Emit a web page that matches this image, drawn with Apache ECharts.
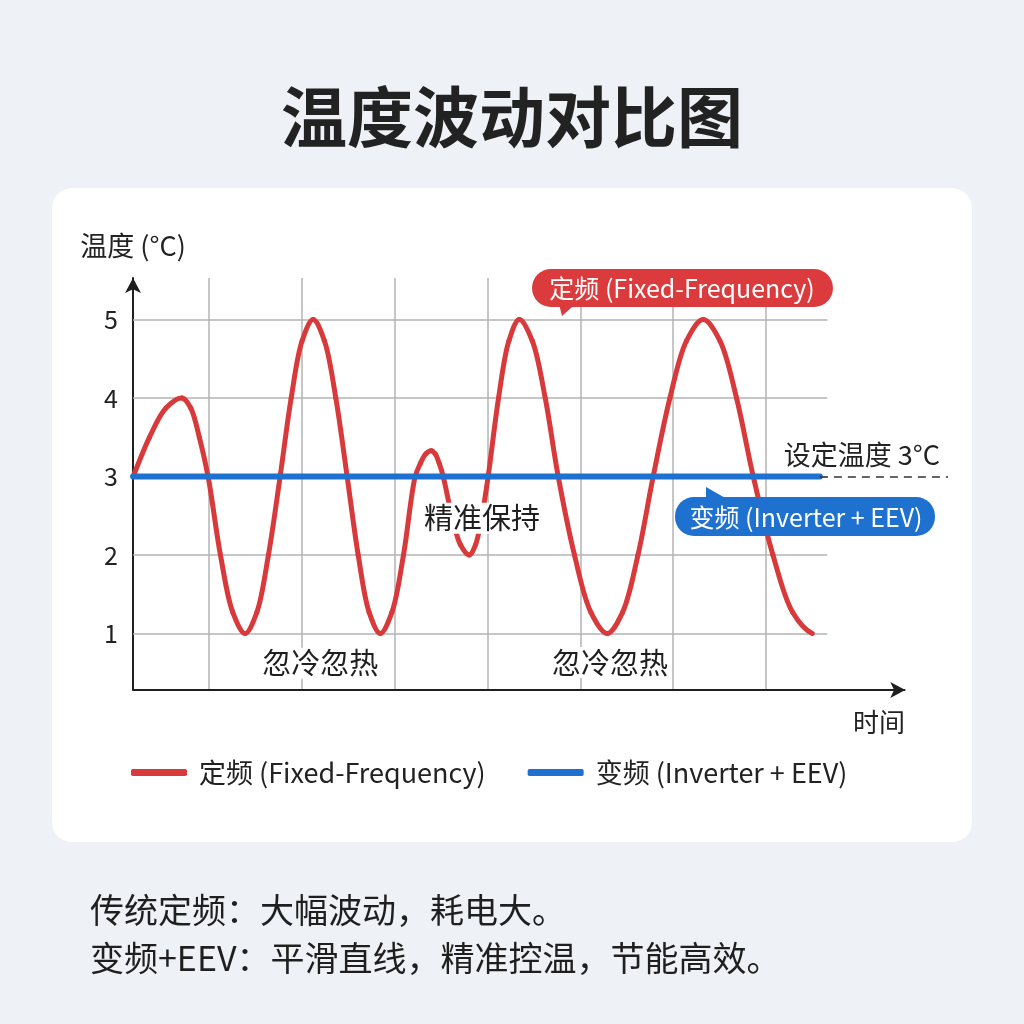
<!DOCTYPE html>
<html>
<head>
<meta charset="utf-8">
<title>温度波动对比图</title>
<script src="https://cdn.jsdelivr.net/npm/echarts@6/dist/echarts.min.js"></script>
<style>
	html, body { margin: 0; padding: 0; background: #eef1f5; }
	#main { width: 1024px; height: 1024px; }
</style>
</head>
<body>
<div id="main"></div>
<script>
	// 定频曲线 (时间格, 温度)
	var redT = [0.181, 0.357, 0.533, 0.709, 0.803, 0.895, 0.989,
		1.122, 1.255, 1.388, 1.514, 1.639, 1.765,
		1.884, 2.002, 2.121, 2.242, 2.365, 2.487,
		2.606, 2.724, 2.843, 2.969, 3.094, 3.220,
		3.277, 3.335, 3.392, 3.435, 3.478, 3.522,
		3.615, 3.708, 3.802, 3.870, 3.939, 4.006,
		4.118, 4.230, 4.341, 4.481, 4.621, 4.761,
		4.936, 5.113, 5.289, 5.454, 5.620, 5.784,
		5.964, 6.143, 6.323, 6.503, 6.682, 6.862,
		7.074, 7.286, 7.498];
	var redV = [3, 3.5, 3.87, 4, 3.87, 3.5, 3,
		2, 1.27, 1, 1.27, 2, 3,
		4, 4.73, 5, 4.73, 4, 3,
		2, 1.27, 1, 1.27, 2, 3,
		3.17, 3.29, 3.33, 3.29, 3.17, 3,
		2.5, 2.13, 2, 2.13, 2.5, 3,
		4, 4.73, 5, 4.73, 4, 3,
		2, 1.27, 1, 1.27, 2, 3,
		4, 4.73, 5, 4.73, 4, 3,
		2, 1.27, 1];
	// 变频直线
	var blueT = [0.181, 7.58];
	var blueV = [3, 3];
	// 设定温度
	var setTemp = 3;
	var yTicks = [1, 2, 3, 4, 5];
	var xGrid = [1, 2, 3, 4, 5, 6, 7];

	var RED = '#d8393b';
	var BLUE = '#1f71d0';
	var FONT = 'Noto Sans CJK SC';

	var xMin = 0.18, xMax = 8.98, yMin = 0.28, yMax = 5.53;
	var gridEnd = 7.66, axisEnd = 8.5, dashEnd = 8.96;

	function zip(a, b) {
		var out = [];
		for (var i = 0; i < a.length; i++) out.push([a[i], b[i]]);
		return out;
	}

	//网格线
	var gridLines = [];
	xGrid.forEach(function (x) {
		gridLines.push([{ coord: [x, yMin] }, { coord: [x, yMax] }]);
	});
	yTicks.forEach(function (y) {
		gridLines.push([{ coord: [xMin, y] }, { coord: [gridEnd, y] }]);
	});

	// centripetal catmull-rom -> bezier 控制点
	function dist(a, b) {
		return Math.sqrt((a[0] - b[0]) * (a[0] - b[0]) + (a[1] - b[1]) * (a[1] - b[1]));
	}
	function ctrlPts(p0, p1, p2, p3) {
		var a1 = dist(p0, p1), a2 = dist(p1, p2), a3 = dist(p2, p3);
		var d1 = Math.sqrt(a1), d2 = Math.sqrt(a2), d3 = Math.sqrt(a3);
		var c1 = [], c2 = [];
		for (var k = 0; k < 2; k++) {
			c1[k] = (a1 * p2[k] - a2 * p0[k] + (2 * a1 + 3 * d1 * d2 + a2) * p1[k]) / (3 * d1 * (d1 + d2));
			c2[k] = (a3 * p1[k] - a2 * p3[k] + (2 * a3 + 3 * d3 * d2 + a2) * p2[k]) / (3 * d3 * (d3 + d2));
		}
		return [c1, c2];
	}

	//定频曲线
	function renderRed(params, api) {
		if (params.dataIndex !== 0) return null;
		var pts = redT.map(function (t, i) { return api.coord([t, redV[i]]); });
		var n = pts.length;
		var children = [];
		for (var i = 0; i < n - 1; i++) {
			var p1 = pts[i], p2 = pts[i + 1];
			var p0 = i > 0 ? pts[i - 1] : [2 * p1[0] - p2[0], 2 * p1[1] - p2[1]];
			// 末端在谷底, 水平收尾
			var p3 = i + 2 < n ? pts[i + 2] : [2 * p2[0] - p1[0], p2[1]];
			var c = ctrlPts(p0, p1, p2, p3);
			children.push({
				type: 'bezierCurve',
				shape: {
					x1: p1[0], y1: p1[1], x2: p2[0], y2: p2[1],
					cpx1: c[0][0], cpy1: c[0][1], cpx2: c[1][0], cpy2: c[1][1]
				},
				style: { fill: null, stroke: RED, lineWidth: 5, lineCap: 'round' }
			});
		}
		return { type: 'group', children: children };
	}

	var myChart = echarts.init(document.getElementById('main'));
	var option = {
		animation: false,
		backgroundColor: '#eef1f5',
		textStyle: { fontFamily: FONT },
		graphic: [
			{
				type: 'rect', z: -10,
				shape: { x: 52, y: 188, width: 920, height: 654, r: 20 },
				style: { fill: '#ffffff' }
			},
			{
				type: 'text', z: 5,
				style: { text: '温度波动对比图', x: 512, y: 117, align: 'center', verticalAlign: 'middle',
					font: 'bold 66px "Noto Sans CJK SC"', fill: '#222222' }
			},
			{
				type: 'text', z: 5,
				style: { text: '时间', x: 879, y: 722, align: 'center', verticalAlign: 'middle',
					font: '26px "Noto Sans CJK SC"', fill: '#222222' }
			},
			//定频标签
			{
				type: 'rect', z: 20,
				shape: { x: 532, y: 269, width: 301, height: 38, r: 19 },
				style: { fill: '#dc3b3d' }
			},
			{
				type: 'polygon', z: 20,
				shape: { points: [[558, 300], [580, 300], [562, 316]] },
				style: { fill: '#dc3b3d' }
			},
			{
				type: 'text', z: 21,
				style: { text: '定频 (Fixed-Frequency)', x: 682, y: 288, align: 'center', verticalAlign: 'middle',
					font: '25px "Noto Sans CJK SC"', fill: '#ffffff' }
			},
			//变频标签
			{
				type: 'rect', z: 20,
				shape: { x: 675, y: 497, width: 260, height: 39, r: 19 },
				style: { fill: BLUE }
			},
			{
				type: 'polygon', z: 20,
				shape: { points: [[706, 487], [706, 503], [734, 503]] },
				style: { fill: BLUE }
			},
			{
				type: 'text', z: 21,
				style: { text: '变频 (Inverter + EEV)', x: 806, y: 517, align: 'center', verticalAlign: 'middle',
					font: '25px "Noto Sans CJK SC"', fill: '#ffffff' }
			},
			//底部说明
			{
				type: 'text', z: 5,
				style: { text: '传统定频：大幅波动，耗电大。', x: 90, y: 910, verticalAlign: 'middle',
					font: '34px "Noto Sans CJK SC"', fill: '#1f1f1f' }
			},
			{
				type: 'text', z: 5,
				style: { text: '变频+EEV：平滑直线，精准控温，节能高效。', x: 90, y: 958, verticalAlign: 'middle',
					font: '34px "Noto Sans CJK SC"', fill: '#1f1f1f' }
			}
		],
		legend: {
			data: ['定频 (Fixed-Frequency)', '变频 (Inverter + EEV)'],
			left: 131,
			top: 759,
			padding: 0,
			icon: 'roundRect',
			itemWidth: 56,
			itemHeight: 7,
			itemGap: 42,
			textStyle: { fontSize: 27, color: '#222222', fontFamily: FONT, padding: [0, 0, 0, 7] }
		},
		grid: {
			left: 133,
			right: 1024 - 948 - (xMax - dashEnd) * 92.8,
			top: 278,
			bottom: 334
		},
		xAxis: {
			type: 'value',
			min: xMin,
			max: xMax,
			axisLine: { show: false },
			axisTick: { show: false },
			axisLabel: { show: false },
			splitLine: { show: false }
		},
		yAxis: {
			type: 'value',
			min: yMin,
			max: yMax,
			name: '温度 (°C)',
			nameLocation: 'end',
			nameGap: 19,
			nameTextStyle: { fontSize: 27, color: '#222222', fontFamily: FONT },
			axisLine: {
				show: true,
				symbol: ['none', 'arrow'],
				symbolSize: [12, 15],
				lineStyle: { color: '#1f1f1f', width: 2 }
			},
			axisTick: { show: false },
			axisLabel: {
				customValues: yTicks,
				fontSize: 25,
				color: '#222222',
				margin: 15,
				fontFamily: FONT
			},
			splitLine: { show: false }
		},
		series: [
			{
				name: 'grid',
				type: 'line',
				data: [],
				z: 1,
				silent: true,
				clip: false,
				markLine: {
					z: 1,
					silent: true,
					symbol: ['none', 'none'],
					label: { show: false },
					lineStyle: { color: '#b3b3b3', width: 1.5, type: 'solid' },
					data: gridLines
				}
			},
			{
				name: '定频 (Fixed-Frequency)',
				type: 'custom',
				data: zip(redT, redV),
				renderItem: renderRed,
				clip: false,
				silent: true,
				z: 3,
				itemStyle: { color: RED }
			},
			{
				name: '变频 (Inverter + EEV)',
				type: 'line',
				data: zip(blueT, blueV),
				showSymbol: false,
				z: 4,
				color: BLUE,
				lineStyle: { color: BLUE, width: 6, cap: 'round' }
			},
			{
				name: 'notes',
				type: 'line',
				data: [],
				z: 6,
				clip: false,
				markLine: {
					z: 6,
					silent: true,
					data: [
						//x轴
						[{ coord: [xMin, yMin], symbol: 'none' },
						 { coord: [axisEnd, yMin], symbol: 'arrow', symbolSize: [12, 15] }],
						//设定温度虚线
						[{ coord: [blueT[1], setTemp], symbol: 'none',
						   lineStyle: { type: [8, 6], width: 1.5, color: '#333333' },
						   label: { show: true, position: 'insideEndTop', formatter: '设定温度 3°C', distance: 8,
								fontSize: 27, color: '#222222', fontFamily: FONT } },
						 { coord: [dashEnd, setTemp], symbol: 'none' }]
					],
					label: { show: false },
					lineStyle: { color: '#1f1f1f', width: 2, type: 'solid' }
				}
			},
			{
				name: 'labels',
				type: 'line',
				data: [],
				z: 10,
				clip: false,
				markPoint: {
					z: 10,
					symbol: 'rect',
					symbolSize: 0,
					label: {
						show: true,
						position: 'inside',
						formatter: '{b}',
						fontSize: 29,
						color: '#1f1f1f',
						fontFamily: FONT,
						backgroundColor: '#ffffff',
						padding: [1, 3]
					},
					data: [
						{ name: '精准保持', coord: [3.94, 2.47] },
						{ name: '忽冷忽热', coord: [2.196, 0.62] },
						{ name: '忽冷忽热', coord: [5.32, 0.63] }
					]
				}
			}
		]
	};
	myChart.setOption(option);
</script>
</body>
</html>
